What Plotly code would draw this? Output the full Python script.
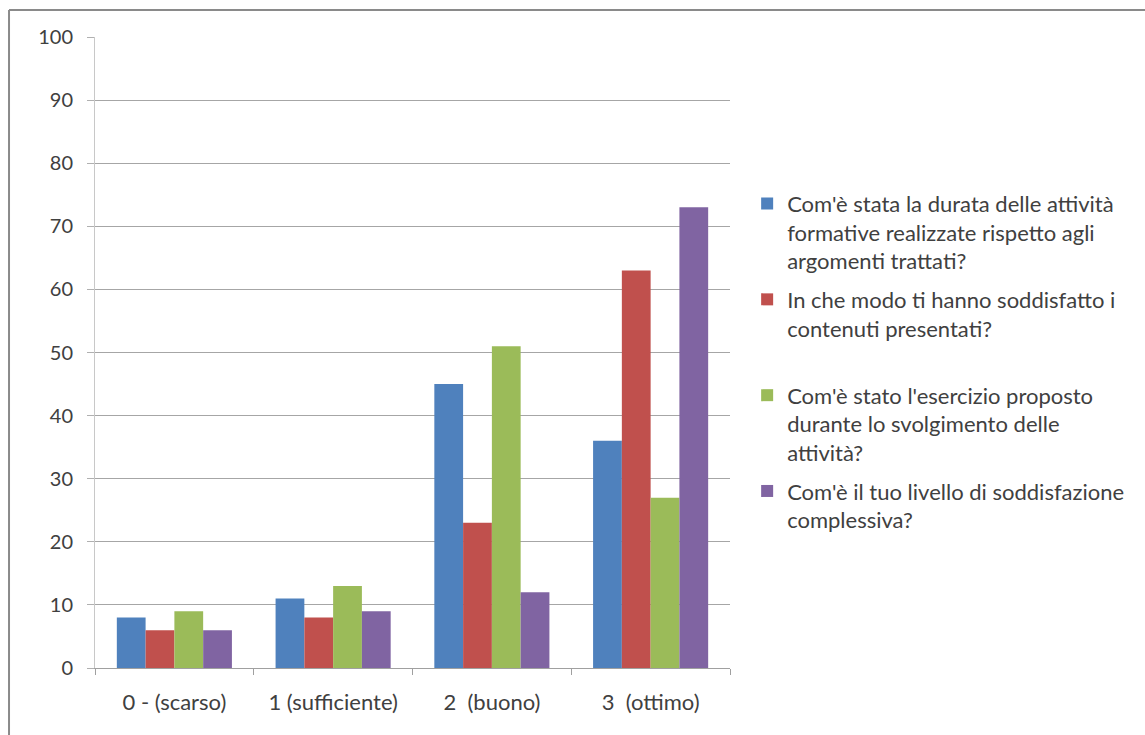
import plotly.graph_objects as go

categories = ["0 - (scarso)", "1 (sufficiente)", "2  (buono)", "3  (ottimo)"]
series_names = [
    "Com'è stata la durata delle attività<br>formative realizzate rispetto agli<br>argomenti trattati?",
    "In che modo ti hanno soddisfatto i<br>contenuti presentati?<br> ",
    "Com'è stato l'esercizio proposto<br>durante lo svolgimento delle<br>attività?",
    "Com'è il tuo livello di soddisfazione<br>complessiva?",
]
durata = [8, 11, 45, 36]
contenuti = [6, 8, 23, 63]
esercizio = [9, 13, 51, 27]
soddisfazione = [6, 9, 12, 73]
colors = ["#4F81BD", "#C0504D", "#9BBB59", "#8064A2"]
y_ticks = [0, 10, 20, 30, 40, 50, 60, 70, 80, 90, 100]

FONT = "Lato"
TXT = "#404040"

fig = go.Figure()
for i, (name, vals) in enumerate(zip(series_names, [durata, contenuti, esercizio, soddisfazione])):
    fig.add_trace(go.Bar(x=categories, y=vals, name=name, marker_color=colors[i],
                         marker_line_width=0, legendgroup=f"g{i}"))

# outer chart border (top and left edges visible)
fig.add_shape(type="line", xref="paper", yref="paper", x0=-0.1354, x1=1.7, y0=1.0428, y1=1.0428,
              line=dict(color="#8a8a8a", width=2))
fig.add_shape(type="line", xref="paper", yref="paper", x0=-0.1354, x1=-0.1354, y0=1.0428, y1=-0.2,
              line=dict(color="#8a8a8a", width=2))

fig.update_layout(
    width=1145, height=735,
    margin=dict(l=95, r=415, t=37, b=67),
    paper_bgcolor="white", plot_bgcolor="white",
    barmode="group", bargap=0.275, bargroupgap=0,
    font=dict(family=FONT, size=20, color=TXT),
    showlegend=True,
    legend=dict(x=1.027, y=0.769, xanchor="left", yanchor="top", valign="top",
                font=dict(family=FONT, size=22, color=TXT),
                traceorder="grouped", tracegroupgap=7, itemwidth=30,
                bgcolor="rgba(0,0,0,0)"),
    xaxis=dict(showline=True, linecolor="#a0a0a0", linewidth=1,
               ticks="outside", tickson="boundaries", ticklen=6, tickcolor="#a0a0a0",
               showgrid=False, ticklabelstandoff=15,
               tickfont=dict(family=FONT, size=22, color=TXT)),
    yaxis=dict(range=[0, 100], tickvals=y_ticks, showline=True, linecolor="#c8c8c8", linewidth=1,
               ticks="outside", ticklen=7, tickcolor="#b0b0b0",
               showgrid=True, gridcolor="#a6a6a6", gridwidth=1, zeroline=False,
               ticklabelstandoff=10,
               tickfont=dict(family=FONT, size=20, color=TXT)),
)

fig.write_html("out.html")
